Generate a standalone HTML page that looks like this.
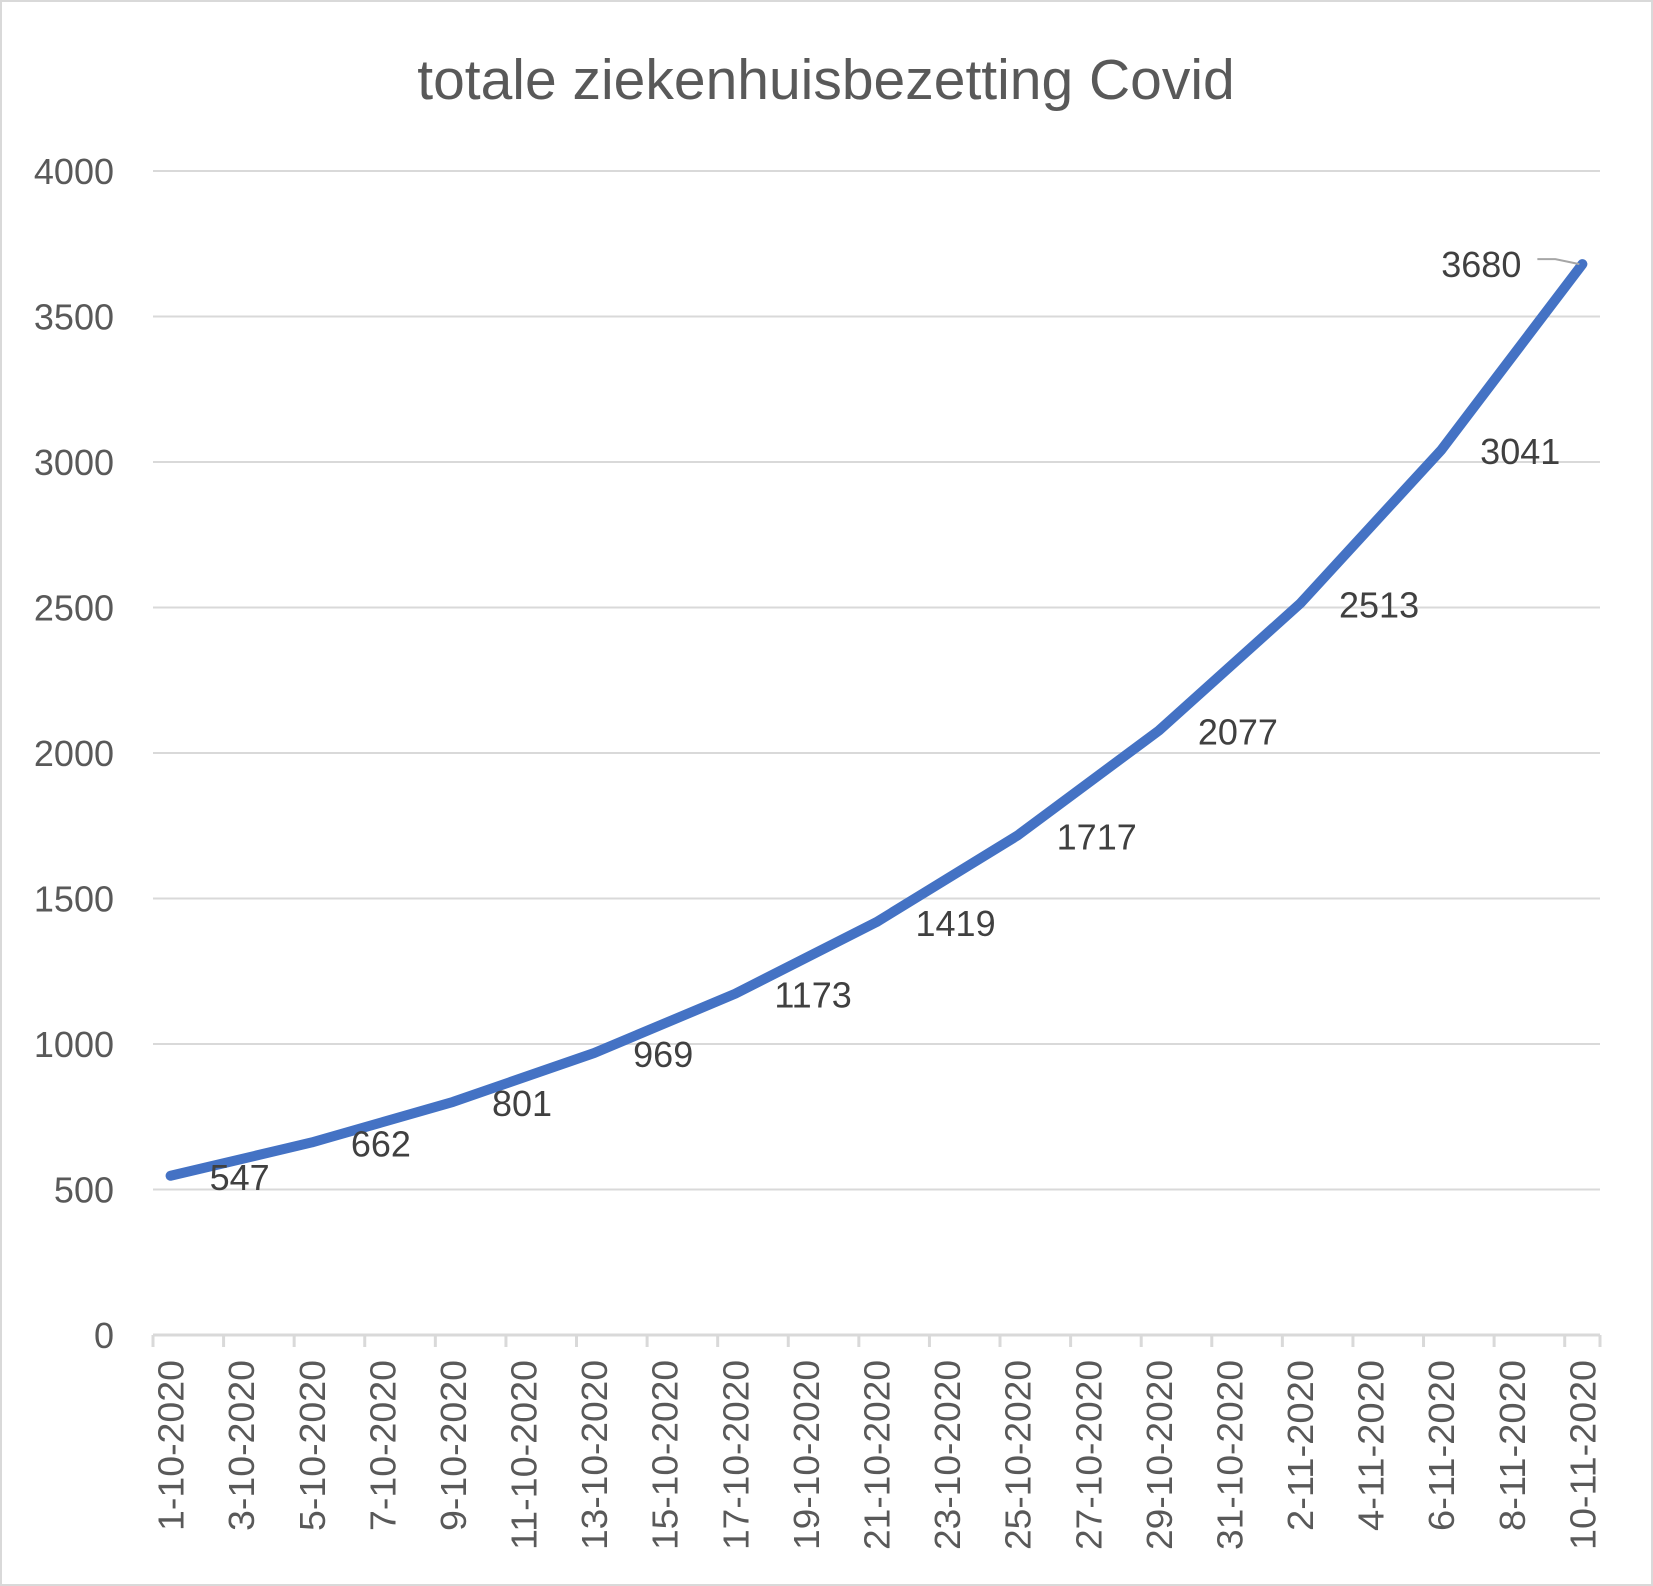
<!DOCTYPE html>
<html><head><meta charset="utf-8"><style>
html,body{margin:0;padding:0;background:#fff}
svg{display:block;font-family:"Liberation Sans",sans-serif}
</style></head><body>
<svg id="chart" width="1653" height="1586" viewBox="0 0 1653 1586">
<rect x="1" y="1" width="1651" height="1584" fill="#fff" stroke="#d9d9d9" stroke-width="2"/>
<text x="826" y="99" text-anchor="middle" font-size="57" fill="#595959">totale ziekenhuisbezetting Covid</text>
<g id="grid"></g><g id="yt"></g><g id="xt"></g><g id="series"></g><g id="labels"></g>
</svg>
<script>
const yTicks=[0,500,1000,1500,2000,2500,3000,3500,4000];
const xTickLabels=["1-10-2020","3-10-2020","5-10-2020","7-10-2020","9-10-2020","11-10-2020","13-10-2020","15-10-2020","17-10-2020","19-10-2020","21-10-2020","23-10-2020","25-10-2020","27-10-2020","29-10-2020","31-10-2020","2-11-2020","4-11-2020","6-11-2020","8-11-2020","10-11-2020"];
const dayIndex=[0,4,8,12,16,20,24,28,32,36,40];
const values=[547,662,801,969,1173,1419,1717,2077,2513,3041,3680];
const nDays=41;
const NS="http://www.w3.org/2000/svg";
const L=153,R=1600,T=171,B=1335,yMax=4000;
const cw=(R-L)/nDays;
const x=d=>L+cw*(d+0.5);
const y=v=>B-(B-T)*v/yMax;
function mk(tag,attrs,parent,txt){const e=document.createElementNS(NS,tag);for(const k in attrs)e.setAttribute(k,attrs[k]);if(txt!==undefined)e.textContent=txt;document.getElementById(parent).appendChild(e);return e;}
yTicks.forEach(v=>{
 if(v>0){const g=mk('line',{x1:L,x2:R,y1:y(v),y2:y(v),stroke:'#d9d9d9','stroke-width':2},'grid');
 
 }
 const t=mk('text',{x:114,y:y(v)+13,'text-anchor':'end','font-size':36,fill:'#595959'},'yt',String(v));
 
 
});
const ax=mk('line',{x1:L,x2:R,y1:B,y2:B,stroke:'#d9d9d9','stroke-width':3},'grid');


for(let i=0;i<=Math.ceil(nDays/2);i++){
 const d=Math.min(i*2,nDays);const tx=L+cw*d;
 const tk=mk('line',{x1:tx,x2:tx,y1:B,y2:B+12,stroke:'#d9d9d9','stroke-width':3},'grid');
 
 
}
xTickLabels.forEach((s,i)=>{
 const cx=x(i*2);
 const t=mk('text',{x:0,y:0,'text-anchor':'end','font-size':36,fill:'#595959',textLength:s.length*19,lengthAdjust:'spacingAndGlyphs',transform:`translate(${cx+13},1360) rotate(-90)`},'xt',s);
 
 
});
const pts=values.map((v,i)=>x(dayIndex[i]).toFixed(1)+','+y(v).toFixed(1)).join(' ');
const pl=mk('polyline',{points:pts,fill:'none',stroke:'#4472c4','stroke-width':10,'stroke-linecap':'round','stroke-linejoin':'round'},'series');


values.forEach((v,i)=>{
 const px=x(dayIndex[i]),py=y(v);
 let t;
 if(i===values.length-1){
  t=mk('text',{x:px-61,y:py+13,'text-anchor':'end','font-size':36,fill:'#404040'},'labels',String(v));
  const ld=mk('polyline',{points:`${px-45},${py-5} ${px-27},${py-5} ${px-3},${py}`,fill:'none',stroke:'#a6a6a6','stroke-width':2},'labels');
  
  
 } else {
  t=mk('text',{x:px+39,y:py+14,'font-size':36,fill:'#404040'},'labels',String(v));
 }
 
 
});
</script>
</body></html>
